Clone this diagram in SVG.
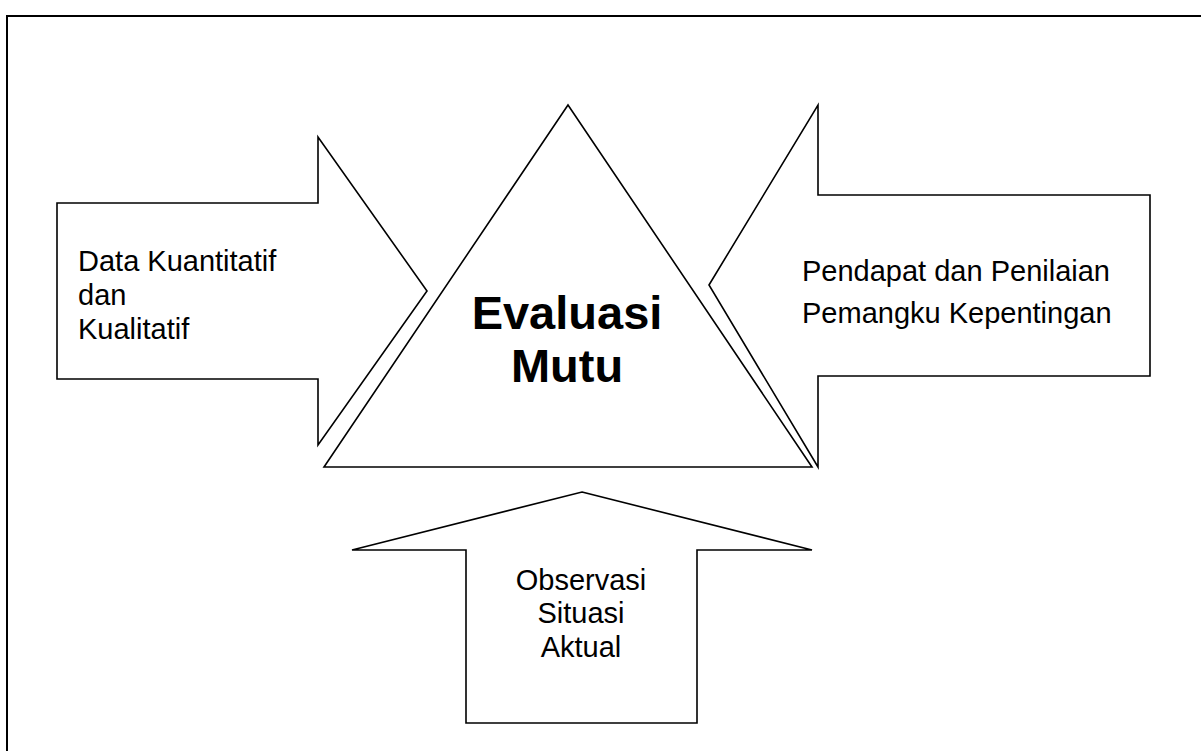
<svg xmlns="http://www.w3.org/2000/svg" width="1201" height="751" viewBox="0 0 1201 751">
  <style>
    .shape { fill: #ffffff; stroke: #000000; stroke-width: 1.6; stroke-linejoin: miter; }
    .frame { fill: none; stroke: #000000; stroke-width: 2; }
    .label { font-family: "Liberation Sans", Arial, sans-serif; font-size: 29px; fill: #000000; }
    .title { font-family: "Liberation Sans", Arial, sans-serif; font-size: 47px; font-weight: bold; fill: #000000; }
  </style>
  <rect width="1201" height="751" fill="#ffffff"/>
  <!-- outer frame, open past the right and bottom edges -->
  <rect class="frame" x="7" y="16" width="1220" height="760"/>

  <g id="arrow-left">
    <polygon class="shape" points="57,203 318,203 318,137 427,291 318,445 318,379 57,379"/>
    <text class="label" x="78" y="271">Data Kuantitatif</text>
    <text class="label" x="78" y="305">dan</text>
    <text class="label" x="78" y="339">Kualitatif</text>
  </g>

  <g id="arrow-right">
    <polygon class="shape" points="709,285 818,105 818,195 1150,195 1150,376 818,376 818,467"/>
    <text class="label" x="802" y="281" font-size="29.5">Pendapat dan Penilaian</text>
    <text class="label" x="802" y="323" font-size="29.5">Pemangku Kepentingan</text>
  </g>

  <g id="triangle">
    <polygon class="shape" points="568,105 812,467 324,467"/>
    <text class="title" x="567" y="329" text-anchor="middle">Evaluasi</text>
    <text class="title" x="567" y="382" text-anchor="middle">Mutu</text>
  </g>

  <g id="arrow-bottom">
    <polygon class="shape" points="582,492 812,550 697,550 697,723 466,723 466,550 352,550"/>
    <text class="label" x="581" y="590" text-anchor="middle">Observasi</text>
    <text class="label" x="581" y="623" text-anchor="middle">Situasi</text>
    <text class="label" x="581" y="657" text-anchor="middle">Aktual</text>
  </g>

  <g id="connectors"></g>
</svg>
